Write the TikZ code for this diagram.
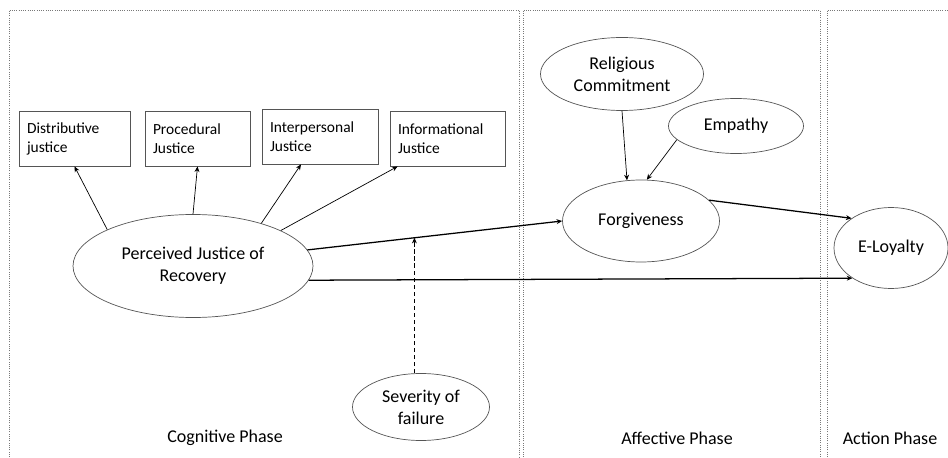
\documentclass[tikz,border=0pt]{standalone}
\usepackage{fontspec}
\setmainfont{Carlito}
\usepackage{xcolor}
\definecolor{framegray}{RGB}{120,120,120}
\definecolor{linegray}{RGB}{85,85,85}
\usetikzlibrary{arrows.meta,shapes.geometric,calc}

\begin{document}
\begin{tikzpicture}[
  construct/.style={ellipse, draw=linegray, line width=0.5pt, align=center, inner sep=0pt, font=\fontsize{12.8}{15.6}\selectfont},
  dimbox/.style={rectangle, draw=linegray, line width=0.6pt, align=left, minimum height=1.375cm, inner xsep=0.2cm, font=\fontsize{11}{13.5}\selectfont},
  phaseframe/.style={densely dotted, framegray, line width=0.6pt},
  phaselabel/.style={font=\fontsize{12.8}{15.6}\selectfont},
  link/.style={-{Stealth[length=4pt,width=3.5pt]}, line width=0.5pt},
  mainlink/.style={link, line width=0.9pt},
  modlink/.style={link, densely dashed, line width=0.7pt}
]
  \useasboundingbox (0,0) rectangle (23.7,11.425);
  % Phase frames (open at the bottom)
  \draw[phaseframe] (0.225,0) -- (0.225,11.175) -- (12.975,11.175) -- (12.975,0);
  \draw[phaseframe] (13.075,0) -- (13.075,11.175) -- (20.5,11.175) -- (20.5,0);
  \draw[phaseframe] (20.675,0) -- (20.675,11.175) -- (23.7,11.175);
  \node[phaselabel] (cogn) at (5.625,0.475) {Cognitive Phase};
  \node[phaselabel] (affe) at (16.925,0.475) {Affective Phase};
  \node[phaselabel] (acti) at (22.25,0.475) {Action Phase};
  % Justice dimensions
  \node[dimbox, text width=2.375cm] (dist) at (1.8625,7.9625) {Distributive\\justice};
  \node[dimbox, text width=2.225cm] (proc) at (4.9375,7.9625) {Procedural\\Justice};
  \node[dimbox, text width=2.5cm] (inter) at (8.0,8.0125) {Interpersonal\\Justice};
  \node[dimbox, text width=2.475cm] (info) at (11.1875,7.9625) {Informational\\Justice};
  % Constructs
  \node[construct, minimum width=6.0cm, minimum height=2.575cm] (pjr) at (4.825,4.775) {Perceived Justice of\\Recovery};
  \node[construct, minimum width=3.425cm, minimum height=1.675cm] (sev) at (10.525,1.25) {Severity of\\failure};
  \node[construct, minimum width=3.925cm, minimum height=2.05cm] (forg) at (16.025,5.9) {Forgiveness};
  \node[construct, minimum width=4.075cm, minimum height=1.825cm] (relig) at (15.55,9.575) {Religious\\Commitment};
  \node[construct, minimum width=3.375cm, minimum height=1.375cm] (emp) at (18.4,8.275) {Empathy};
  \node[construct, minimum width=2.85cm, minimum height=2.025cm] (eloy) at (22.275,5.225) {E-Loyalty};
  % Links to the dimensions
  \draw[link] (pjr.157) -- (dist.south);
  \draw[link] (pjr.north) -- (proc.south);
  \draw[link] (pjr.32) -- ([xshift=-0.475cm]inter.south);
  \draw[link] (pjr.22) -- ([xshift=0.2cm]info.south west);
  % Structural paths
  \draw[mainlink] (pjr.8) -- coordinate[pos=0.42] (mod) (forg.west);
  \draw[mainlink] (pjr.-7) -- (eloy.218);
  \draw[mainlink] (forg.17) -- (eloy.143);
  \draw[link] (relig.south) -- (forg.109);
  \draw[link] (emp.193) -- (forg.82);
  % Moderator
  \draw[modlink] (sev.north -| mod) -- (mod);
\end{tikzpicture}
\end{document}
